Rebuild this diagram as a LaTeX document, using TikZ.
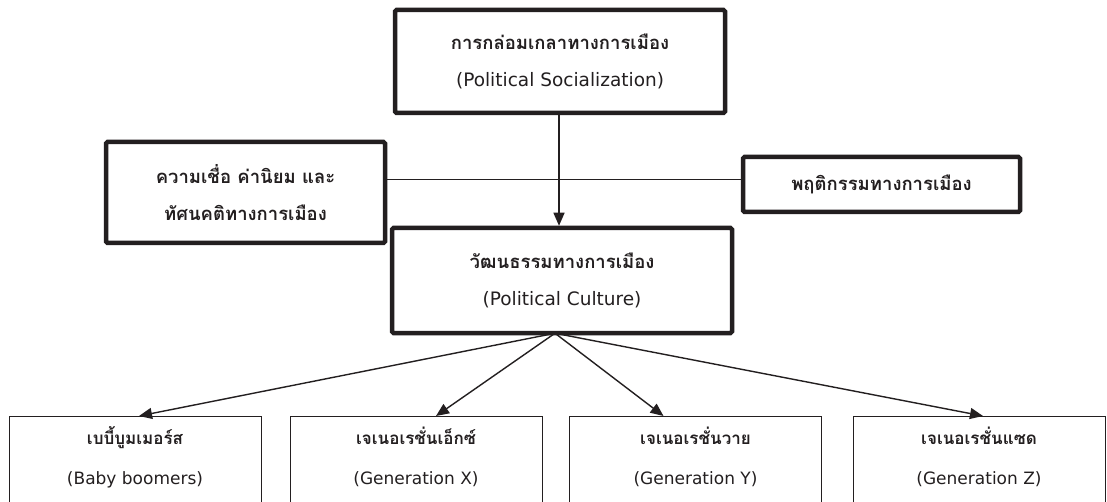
\documentclass[tikz,border=0pt]{standalone}
\usepackage{fontspec}
\newfontfamily\thaifont[Script=Thai]{Loma}
\newfontfamily\latinfont{DejaVu Sans}
\usetikzlibrary{arrows.meta,calc}
\definecolor{ink}{HTML}{231F20}
\newcommand{\thtxt}[1]{{\thaifont\bfseries #1}}
\newcommand{\latxt}[1]{{\latinfont #1}}
\begin{document}
\begin{tikzpicture}[x=1pt,y=-1pt,
  txt/.style={font=\fontsize{18.5}{37}\selectfont, text=ink, align=center, inner sep=0pt},
  smalltxt/.style={txt, font=\fontsize{17}{40}\selectfont},
  thickbox/.style={txt, draw=ink, line width=4.5pt, rounded corners=1.5pt},
  thinbox/.style={draw=ink, line width=1pt, anchor=north, minimum width=252pt, minimum height=110pt, inner sep=0pt},
  conn/.style={draw=ink, line width=1.4pt},
  arr/.style={conn, -{Triangle[length=13pt,width=11pt]}}]
\useasboundingbox (0,0) rectangle (1107,502);
\clip (0,0) rectangle (1107,502);
\fill[white] (0,0) rectangle (1107,502);
% main boxes
\node[thickbox, minimum width=330pt, minimum height=103pt] (tb) at (560,61.5)
  {\thtxt{การกล่อมเกลาทางการเมือง}\\\latxt{(Political Socialization)}};
\node[thickbox, minimum width=279pt, minimum height=101pt] (lb) at (245.5,192.5)
  {\thtxt{ความเชื่อ ค่านิยม และ}\\\thtxt{ทัศนคติทางการเมือง}};
\node[thickbox, minimum width=277pt, minimum height=55pt] (rb) at (881.5,184.5)
  {\thtxt{พฤติกรรมทางการเมือง}};
\node[thickbox, minimum width=340pt, minimum height=105pt] (cb) at (562,280.5)
  {\thtxt{วัฒนธรรมทางการเมือง}\\\latxt{(Political Culture)}};
% generation boxes
\node[thinbox] (b1) at (135,416) {};
\node[thinbox] (b2) at (416,416) {};
\node[thinbox] (b3) at (695.5,416) {};
\node[thinbox] (b4) at (979,416) {};
\node[smalltxt] (b1t) at ([yshift=-41pt]b1.north) {\thtxt{เบบี้บูมเมอร์ส}\\\latxt{(Baby boomers)}};
\node[smalltxt] (b2t) at ([yshift=-41pt]b2.north) {\thtxt{เจเนอเรชั่นเอ็กซ์}\\\latxt{(Generation X)}};
\node[smalltxt] (b3t) at ([yshift=-41pt]b3.north) {\thtxt{เจเนอเรชั่นวาย}\\\latxt{(Generation Y)}};
\node[smalltxt] (b4t) at ([yshift=-41pt]b4.north) {\thtxt{เจเนอเรชั่นแซด}\\\latxt{(Generation Z)}};
% connectors
\draw[conn] ([yshift=13pt]lb.east) -- ([yshift=13pt]lb.east -| rb.west);
\draw[arr] ([xshift=-1pt]tb.south) -- ([xshift=-1pt]tb.south |- cb.north);
\coordinate (fan) at ([xshift=-7pt,yshift=2pt]cb.south);
\draw[arr] (fan) -- ([xshift=4pt]b1.north);
\draw[arr] (fan) -- ([xshift=20pt]b2.north);
\draw[arr] (fan) -- ([xshift=-32pt]b3.north);
\draw[arr] (fan) -- ([xshift=4pt]b4.north);
\end{tikzpicture}
\end{document}
